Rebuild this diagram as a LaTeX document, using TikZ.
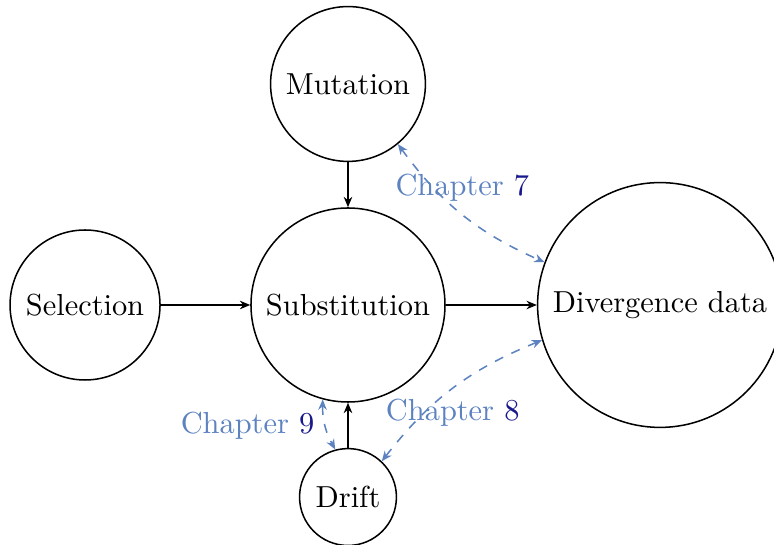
\documentclass[tikz,border=0pt]{standalone}
\usetikzlibrary{arrows.meta, positioning}
\definecolor{chapterblue}{RGB}{92,130,192}
\definecolor{chapternum}{RGB}{24,24,140}
\newcommand{\chapref}[1]{Chapter \textcolor{chapternum}{#1}}

\begin{document}
\begin{tikzpicture}[
    line width=0.5pt,
    force/.style={circle, draw=black, text centered, inner sep=0pt},
    arrow/.style={-{Stealth[length=3.4pt, width=2.8pt]}},
    link/.style={{Stealth[length=3.4pt, width=2.8pt]}-{Stealth[length=3.4pt, width=2.8pt]}, dashed, draw=chapterblue},
    chap/.style={text=chapterblue}
]
    \useasboundingbox (-4.023,-2.774) rectangle (4.925,3.526);

    % Forces
    \node[force, minimum size=2.243cm] (substitution) at (0, 0) {Substitution};
    \node[force, minimum size=1.79cm] (mutation) at (0, 2.555) {Mutation};
    \node[force, minimum size=1.734cm] (selection) at (-3.04, 0) {Selection};
    \node[force, minimum size=1.12cm] (drift) at (0, -2.22) {Drift};

    % Data
    \node[force, minimum size=2.83cm] (divergence) at (3.607, 0) {Divergence data};

    % Influences
    \draw[arrow] (mutation) -- (substitution);
    \draw[arrow] (selection) -- (substitution);
    \draw[arrow] (drift) -- (substitution);
    \draw[arrow] (substitution) -- (divergence);

    % Chapters
    \draw[link] (mutation) to[bend right=15] node[chap, midway, above=0.5pt] {\chapref{7}} (divergence);
    \draw[link] (drift) to[bend left=15] node[chap, midway, below] {\chapref{8}} (divergence);
    \draw[link] (substitution) to[bend right=15] node[chap, midway, left] {\chapref{9}} (drift);

\end{tikzpicture}
\end{document}
